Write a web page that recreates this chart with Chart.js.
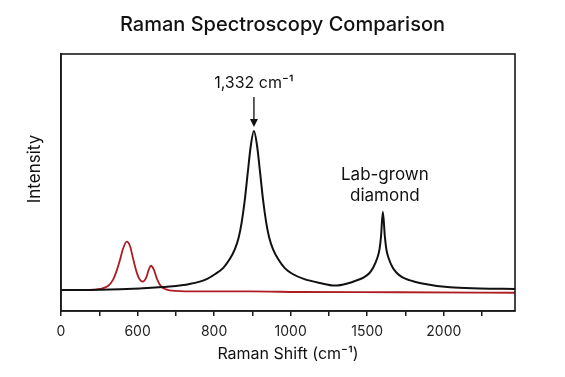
<!DOCTYPE html>
<html>
<head>
<meta charset="utf-8">
<script src="https://cdn.jsdelivr.net/npm/chart.js@4.4.0/dist/chart.umd.min.js"></script>
<style>
  html, body { margin: 0; padding: 0; background: #fff; }
  #wrap { width: 565px; height: 377px; }
</style>
</head>
<body>
<div id="wrap"><canvas id="ramanChart" width="565" height="377"></canvas></div>
<script>
// x values are positions along the (unevenly labelled) axis: 1 unit = one labelled tick
const tickLabels = ['0', '600', '800', '1000', '1500', '2000'];

const labShiftPos = [0, 0.51, 1.03, 1.42, 1.68, 1.88, 2.02, 2.12, 2.2, 2.27, 2.32, 2.36, 2.4, 2.44, 2.48,
    2.52, 2.56, 2.6, 2.64, 2.68, 2.72, 2.77, 2.84, 2.92, 3.02, 3.17, 3.38, 3.577,
    3.75, 3.85, 3.95, 4.03, 4.08, 4.13, 4.16, 4.18, 4.204, 4.23, 4.25, 4.28, 4.33, 4.38, 4.45, 4.55, 4.7,
    5.08, 5.47, 5.93];
const labIntensity = [8.2, 8.3, 8.8, 9.5, 10.5, 12.1, 14.5, 16.8, 20.0, 24.0, 28.5, 34.5, 43.0, 54.0, 64.5,
    70.0, 64.5, 54.0, 43.0, 34.5, 28.5, 24.0, 20.0, 16.8, 14.5, 12.5, 10.9, 9.9,
    10.8, 11.8, 13.0, 14.8, 17.0, 20.5, 24.0, 29.0, 38.6, 29.0, 24.0, 20.5, 17.0, 15.0, 13.3, 12.0, 10.8,
    9.2, 8.8, 8.6];

const otherShiftPos = [0, 0.379, 0.509, 0.614, 0.679, 0.731, 0.77, 0.809, 0.858, 0.901, 0.94, 0.979, 1.018,
    1.067, 1.11, 1.149, 1.175, 1.214, 1.253, 1.305, 1.371, 1.488, 1.815, 2.467, 3.12, 4.426, 5.93];
const otherIntensity = [8.2, 8.2, 8.6, 9.7, 12.1, 16.0, 19.8, 24.1, 27.0, 25.3, 20.6, 16.0, 12.8,
    11.4, 12.8, 16.3, 17.6, 16.0, 12.5, 9.7, 8.4, 7.8, 7.6, 7.6, 7.4, 7.3, 7.1];

const fontFamily = 'Inter, "Noto Sans", sans-serif';

//Build point lists for the library
function toPoints(xs, ys) {
    return xs.map((x, i) => ({ x: x, y: ys[i] }));
}

//Frame around the plot plus the text annotations
const framePlugin = {
    id: 'frameAndNotes',
    afterDraw(chart) {
        const { ctx, chartArea, scales } = chart;
        ctx.save();
        ctx.strokeStyle = '#1a1a1a';
        ctx.lineWidth = 1.6;
        ctx.strokeRect(chartArea.left, chartArea.top, chartArea.right - chartArea.left, chartArea.bottom - chartArea.top);

        // y title
        ctx.fillStyle = '#111';
        ctx.font = '17px ' + fontFamily;
        ctx.textAlign = 'center';
        ctx.textBaseline = 'middle';
        ctx.save();
        ctx.translate(35, 169);
        ctx.rotate(-Math.PI / 2);
        ctx.fillText('Intensity', 0, 0);
        ctx.restore();

        // main peak arrow + label
        const peakIdx = labIntensity.indexOf(Math.max(...labIntensity));
        const px = scales.x.getPixelForValue(labShiftPos[peakIdx]);
        const py = scales.y.getPixelForValue(labIntensity[peakIdx]);
        ctx.font = '16px ' + fontFamily;
        ctx.fillText('1,332 cm\u207B\u00B9', px, py - 48);
        ctx.beginPath();
        ctx.moveTo(px, py - 34);
        ctx.lineTo(px, py - 8);
        ctx.lineWidth = 1.4;
        ctx.stroke();
        ctx.beginPath();
        ctx.moveTo(px - 4, py - 12);
        ctx.lineTo(px + 4, py - 12);
        ctx.lineTo(px, py - 4);
        ctx.closePath();
        ctx.fill();

        // second peak label
        const p2 = labIntensity.indexOf(Math.max(...labIntensity.slice(30)), 30);
        const qx = scales.x.getPixelForValue(labShiftPos[p2]) + 2;
        const qy = scales.y.getPixelForValue(labIntensity[p2]);
        ctx.font = '17px ' + fontFamily;
        ctx.fillText('Lab-grown', qx, qy - 37);
        ctx.fillText('diamond', qx, qy - 16);
        ctx.restore();
    }
};

let ctx = document.getElementById('ramanChart').getContext('2d');

var data = {
    datasets: [
        {
            label: 'Lab-grown diamond',
            data: toPoints(labShiftPos, labIntensity),
            borderColor: '#111111',
            borderWidth: 2,
            fill: false,
            cubicInterpolationMode: 'monotone',
            pointRadius: 0
        },
        {
            label: 'Other',
            data: toPoints(otherShiftPos, otherIntensity),
            borderColor: 'rgb(172, 30, 36)',
            borderWidth: 1.8,
            fill: false,
            cubicInterpolationMode: 'monotone',
            pointRadius: 0
        }
    ]
};

var options = {
    responsive: false,
    maintainAspectRatio: false,
    animation: false,
    layout: {
        padding: 0
    },
    plugins: {
        legend: { display: false },
        tooltip: { enabled: false },
        title: {
            display: true,
            text: 'Raman Spectroscopy Comparison',
            color: '#111',
            font: { family: fontFamily, size: 20, weight: '500' },
            padding: { top: 13, bottom: 17 }
        }
    },
    scales: {
        x: {
            type: 'linear',
            min: 0,
            max: 5.93,
            afterBuildTicks: (scale) => {
                const t = [];
                for (let i = 0; i < tickLabels.length; i++) {
                    t.push({ value: i });
                    t.push({ value: i + 0.5 });
                }
                scale.ticks = t;
            },
            afterFit: (scale) => { scale.height = 66; },
            grid: {
                display: true,
                drawOnChartArea: false,
                drawTicks: true,
                tickLength: 5,
                color: '#1a1a1a',
                lineWidth: 1.5
            },
            border: { display: true, color: '#1a1a1a', width: 1.6 },
            ticks: {
                autoSkip: false,
                maxRotation: 0,
                padding: 7,
                color: '#222',
                font: { family: fontFamily, size: 14 },
                callback: (value) => Number.isInteger(value) ? tickLabels[value] : ''
            },
            title: {
                display: true,
                text: 'Raman Shift (cm\u207B\u00B9)',
                color: '#111',
                font: { family: fontFamily, size: 16 },
                padding: { top: 4, bottom: 13 }
            }
        },
        y: {
            min: 0,
            max: 100,
            afterFit: (scale) => { scale.width = 61; },
            grid: { display: false },
            border: { display: true, color: '#1a1a1a', width: 1.6 },
            ticks: { display: false }
        },
        yRight: {
            position: 'right',
            min: 0,
            max: 100,
            afterFit: (scale) => { scale.width = 50; },
            grid: { display: false },
            border: { display: false },
            ticks: { display: false }
        }
    }
};

let chart = new Chart(ctx, {
    type: 'line',
    data: data,
    options: options,
    plugins: [framePlugin]
});
</script>
</body>
</html>
